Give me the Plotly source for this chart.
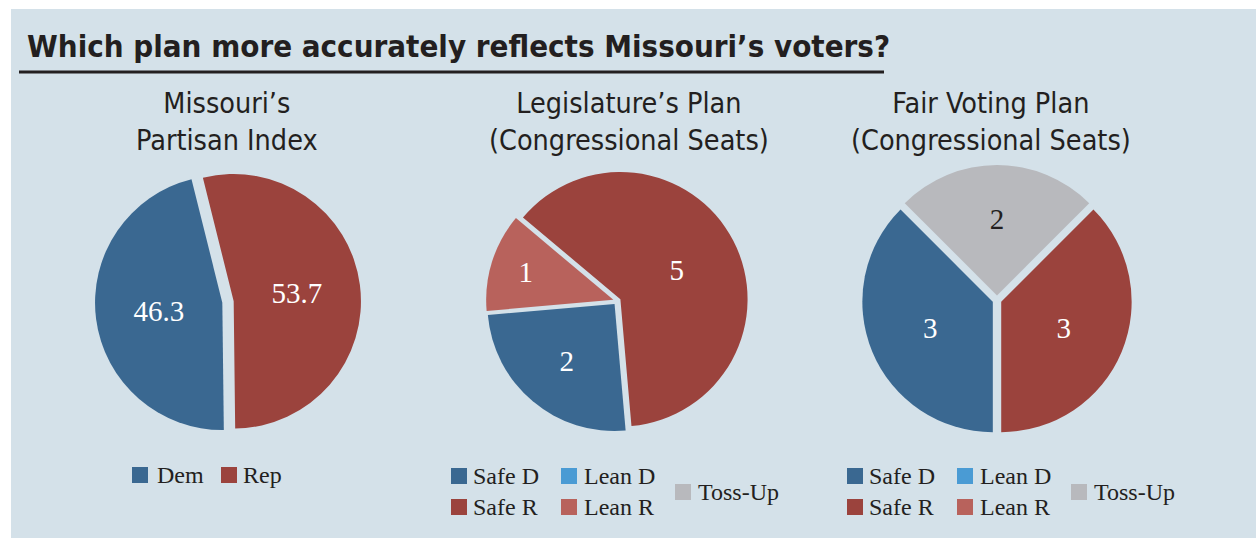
import plotly.graph_objects as go

W, H = 1256, 538

# ---- data ----
partisan_labels = ["Dem", "Rep"]
partisan_values = [46.3, 53.7]

legis_labels = ["Safe R", "Safe D", "Lean R"]
legis_values = [5, 2, 1]

fair_labels = ["Toss-Up", "Safe R", "Safe D"]
fair_values = [2, 3, 3]

legend1_items = ["Dem", "Rep"]
legend_grid_items = ["Safe D", "Lean D", "Safe R", "Lean R", "Toss-Up"]

title_text = "Which plan more accurately reflects Missouri’s voters?"
subtitles = ["Missouri’s<br>Partisan Index",
             "Legislature’s Plan<br>(Congressional Seats)",
             "Fair Voting Plan<br>(Congressional Seats)"]

# ---- styles ----
COL = {"Dem": "#3a6891", "Rep": "#9b433d", "Safe D": "#3a6891", "Lean D": "#4a9bd4",
       "Safe R": "#9b433d", "Lean R": "#b8625c", "Toss-Up": "#b8b9bd"}
BG = "#d4e1e9"
SANS = "DejaVu Sans Condensed, Roboto, sans-serif"
SERIF = "Liberation Serif, DejaVu Serif, serif"
TXT = "#231f20"

def px(x):
    return x / W

def py(y):
    return 1 - y / H

def dom(cx, cy, r):
    return dict(x=[px(cx - r), px(cx + r)], y=[py(cy + r), py(cy - r)])

fig = go.Figure()

# Rep drawn first clockwise from 14 deg left of top, Dem follows
p_labels = partisan_labels[::-1]
p_values = partisan_values[::-1]
fig.add_trace(go.Pie(
    labels=p_labels, values=p_values, sort=False,
    direction="clockwise", rotation=-14,
    pull=[0.045, 0.045], domain=dom(228, 302, 133),
    marker=dict(colors=[COL[l] for l in p_labels], line=dict(width=0)),
    textinfo="value", textposition="inside", insidetextorientation="horizontal",
    textfont=dict(family=SERIF, size=29, color="white"),
    showlegend=False, hoverinfo="label+value"))

fig.add_trace(go.Pie(
    labels=legis_labels, values=legis_values, sort=False,
    direction="clockwise", rotation=-50,
    pull=[0.03, 0.03, 0.03], domain=dom(617, 301, 131),
    marker=dict(colors=[COL[l] for l in legis_labels], line=dict(width=0)),
    textinfo="value", textposition="inside", insidetextorientation="horizontal",
    textfont=dict(family=SERIF, size=29, color="white"),
    showlegend=False, hoverinfo="label+value"))

fig.add_trace(go.Pie(
    labels=fair_labels, values=fair_values, sort=False,
    direction="clockwise", rotation=-45,
    pull=[0.035, 0.035, 0.035], domain=dom(997, 300, 135),
    marker=dict(colors=[COL[l] for l in fair_labels], line=dict(width=0)),
    textinfo="value", textposition="inside", insidetextorientation="horizontal",
    textfont=dict(family=SERIF, size=29, color=["#231f20", "white", "white"]),
    showlegend=False, hoverinfo="label+value"))

shapes = [
    dict(type="rect", xref="paper", yref="paper", x0=px(11), x1=1, y0=0, y1=py(9),
         fillcolor=BG, line=dict(width=0), layer="below"),
    dict(type="line", xref="paper", yref="paper", x0=px(19), x1=px(884), y0=py(72), y1=py(72),
         line=dict(color=TXT, width=3)),
]
annotations = [
    dict(text="<b>" + title_text + "</b>", x=px(25), y=py(46), xref="paper", yref="paper",
         xanchor="left", yanchor="middle", showarrow=False,
         font=dict(family=SANS, size=31, color=TXT)),
]
for cx, s in zip([227, 629, 991], subtitles):
    annotations.append(dict(text=s, x=px(cx), y=py(122), xref="paper", yref="paper",
                            xanchor="center", yanchor="middle", showarrow=False,
                            font=dict(family=SANS, size=28.5, color=TXT)))

def legend_item(name, cx, cy, tx):
    shapes.append(dict(type="rect", xref="paper", yref="paper",
                       x0=px(cx - 8), x1=px(cx + 8), y0=py(cy + 8), y1=py(cy - 8),
                       fillcolor=COL[name], line=dict(width=0)))
    annotations.append(dict(text=name, x=px(tx), y=py(cy), xref="paper", yref="paper",
                            xanchor="left", yanchor="middle", showarrow=False,
                            font=dict(family=SERIF, size=24, color=TXT)))

legend_item(legend1_items[0], 140, 475, 155)
legend_item(legend1_items[1], 229, 475, 241)

for ox in [0, 396]:
    grid = [(459, 476, 471), (569, 476, 582), (459, 507, 471), (569, 507, 582), (683, 492, 696)]
    for name, (cx, cy, tx) in zip(legend_grid_items, grid):
        legend_item(name, cx + ox, cy, tx + ox)

fig.update_layout(
    width=W, height=H, margin=dict(l=0, r=0, t=0, b=0),
    paper_bgcolor="white", plot_bgcolor="white",
    shapes=shapes, annotations=annotations,
)

fig.write_html("out.html", config={"displayModeBar": False},
               post_script="document.body.style.margin='0';")
